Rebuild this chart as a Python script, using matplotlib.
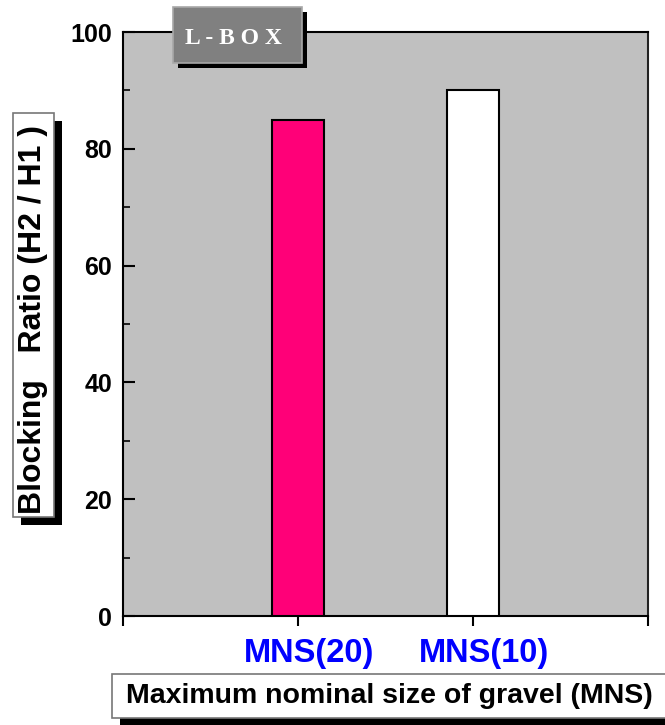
import matplotlib
matplotlib.use("Agg")
import matplotlib.pyplot as plt
from matplotlib.patches import Rectangle
from matplotlib.ticker import MultipleLocator, FixedLocator, FixedFormatter

# data
categorias = ["MNS(20)", "MNS(10)"]
posicoes = [1, 2]
valores = [85, 90]
cores = ["#FF0078", "#FFFFFF"]

titulo = "L - B O X"
rotulo_y = "Blocking   Ratio (H2 / H1 )"
rotulo_x = "Maximum nominal size of gravel (MNS)"

plt.rcParams["font.family"] = ["Liberation Sans", "DejaVu Sans"]

W, H = 665, 725
fig = plt.figure(figsize=(W / 100, H / 100), dpi=100)
fig.patch.set_facecolor("white")


# helpers to work in pixel coordinates of the figure (y from top)
def fx(px):
    return px / W


def fy(py):
    return 1 - py / H


def caixa(x0, y0, x1, y1, sombra, cor, borda, z=5):
    # shadow first, then the box itself
    fig.patches.append(Rectangle((fx(x0 + sombra), fy(y1 + sombra)), fx(x1 - x0), (y1 - y0) / H,
                                 transform=fig.transFigure, facecolor="black",
                                 edgecolor="none", zorder=z))
    fig.patches.append(Rectangle((fx(x0), fy(y1)), fx(x1 - x0), (y1 - y0) / H,
                                 transform=fig.transFigure, facecolor=cor,
                                 edgecolor=borda, linewidth=1.2, zorder=z + 1))


ax = fig.add_axes([fx(123), fy(616), fx(648 - 123), (616 - 32) / H])
ax.set_facecolor("#C0C0C0")

ax.bar(posicoes, valores, width=0.3, color=cores, edgecolor="black", linewidth=1.5, zorder=3)

ax.set_xlim(0, 3)
ax.set_ylim(0, 100)
# major ticks carry the marks, the labels sit a little to the right (as in the original)
ax.set_xticks([0, 1, 2, 3])
ax.set_xticklabels([])
ax.xaxis.set_minor_locator(FixedLocator([p + 0.063 for p in posicoes]))
ax.xaxis.set_minor_formatter(FixedFormatter(categorias))
ax.tick_params(axis="x", which="minor", length=0, pad=15.5, labelsize=23.5,
               labelcolor="#0000FF")
for lab in ax.xaxis.get_minorticklabels():
    lab.set_fontweight("bold")

ax.yaxis.set_major_locator(MultipleLocator(20))
ax.yaxis.set_minor_locator(MultipleLocator(10))
ax.tick_params(axis="y", which="major", direction="in", length=8.5, width=1.5,
               labelsize=18, pad=8, right=False)
ax.tick_params(axis="y", which="minor", direction="in", length=5, width=1.2, right=False)
ax.tick_params(axis="x", which="major", direction="out", length=7.5, width=1.5, top=False)
for lab in ax.get_yticklabels():
    lab.set_fontweight("bold")

for lado in ["left", "bottom", "top", "right"]:
    ax.spines[lado].set_linewidth(1.5)
    ax.spines[lado].set_color("black")
ax.spines["right"].set_color("#222222")

# title box "L-BOX"
caixa(173, 7, 302, 63, 5, "#808080", "#A8A8A8", z=10)
fig.text(fx(233), fy(38), titulo, color="white", fontsize=17, fontweight="bold",
         family=["Liberation Serif", "DejaVu Serif"], ha="center", va="center", zorder=20)

# y label box
caixa(13, 113, 54, 517, 8, "white", "#777777")
fig.text(fx(33), fy(319), rotulo_y, rotation=90, fontsize=23, fontweight="bold",
         ha="center", va="center", zorder=20)

# x label box
caixa(112, 674, 672, 718, 8, "white", "#777777")
fig.text(fx(389), fy(696), rotulo_x, fontsize=20.5, fontweight="bold",
         ha="center", va="center", zorder=20)

fig.savefig("out.png", dpi=100)
